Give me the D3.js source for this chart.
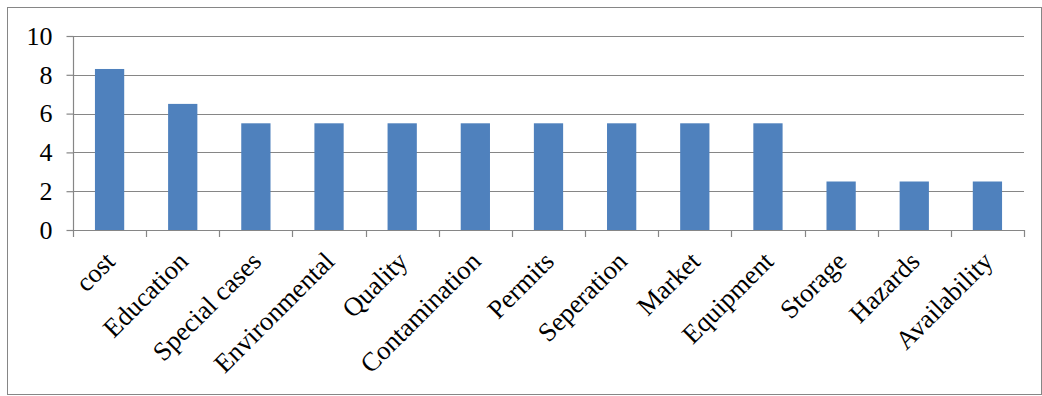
<!DOCTYPE html>
<html lang="en">
  <head>
    <meta charset="UTF-8" />
    <title>bar-chart</title>
    <style>
      body { margin: 0; background: #fff; }
      text { font-family: "Liberation Serif", "Times New Roman", serif; fill: #000; }
    </style>
  </head>
  <body>
    <svg width="1042" height="396" id="svg"></svg>
    <script src="https://cdnjs.cloudflare.com/ajax/libs/d3/7.8.5/d3.min.js"></script>
    <script>
      // data
      const categories = ["cost", "Education", "Special cases", "Environmental", "Quality",
        "Contamination", "Permits", "Seperation", "Market", "Equipment", "Storage",
        "Hazards", "Availability"];
      const values = [8.3, 6.5, 5.5, 5.5, 5.5, 5.5, 5.5, 5.5, 5.5, 5.5, 2.5, 2.5, 2.5];
      const yTicks = [0, 2, 4, 6, 8, 10];

      const svg = d3.select("#svg");
      const margin = { top: 36, left: 73, right: 18, bottom: 166 };
      const width = +svg.attr("width");
      const height = +svg.attr("height");

      // outer frame
      svg.append("rect")
        .attr("x", 7.5).attr("y", 7.5)
        .attr("width", width - 8).attr("height", height - 9)
        .attr("fill", "none").attr("stroke", "#868686");

      const x = d3.scaleBand()
        .domain(categories)
        .range([margin.left, width - margin.right])
        .paddingInner(0.6).paddingOuter(0.3);
      const y = d3.scaleLinear().domain([0, 10]).range([height - margin.bottom, margin.top]);

      // gridlines
      svg.append("g")
        .selectAll("line")
        .data(yTicks.filter(d => d > 0))
        .join("line")
        .attr("x1", margin.left).attr("x2", width - margin.right)
        .attr("y1", d => Math.round(y(d)) + 0.5).attr("y2", d => Math.round(y(d)) + 0.5)
        .attr("stroke", "#868686").attr("stroke-width", 1.2);

      // bars
      svg.append("g")
        .selectAll("rect")
        .data(values)
        .join("rect")
        .attr("x", (d, i) => x(categories[i]))
        .attr("y", d => y(d))
        .attr("width", x.bandwidth())
        .attr("height", d => y(0) - y(d))
        .attr("fill", "#4f81bd");

      // y axis
      const yAxis = svg.append("g")
        .attr("transform", `translate(${margin.left + 0.5},0)`)
        .call(d3.axisLeft(y).tickValues(yTicks).tickSize(7).tickPadding(14));
      yAxis.selectAll("path, line").attr("stroke", "#868686").attr("stroke-width", 1.2);
      yAxis.select(".domain").attr("d", `M0,${margin.top}V${y(0)}`);
      yAxis.selectAll("text").attr("font-size", 26).attr("fill", "#000")
        .style("font-family", "Liberation Serif");

      // x axis: ticks between categories
      const xAxisG = svg.append("g");
      xAxisG.append("line")
        .attr("x1", margin.left).attr("x2", width - margin.right)
        .attr("y1", Math.round(y(0)) + 0.5).attr("y2", Math.round(y(0)) + 0.5)
        .attr("stroke", "#868686").attr("stroke-width", 1.2);
      const edges = d3.range(categories.length + 1).map(i => margin.left + i * (width - margin.right - margin.left) / categories.length);
      xAxisG.selectAll("line.tk")
        .data(edges)
        .join("line")
        .attr("class", "tk")
        .attr("x1", d => Math.round(d) + 0.5).attr("x2", d => Math.round(d) + 0.5)
        .attr("y1", y(0)).attr("y2", y(0) + 7)
        .attr("stroke", "#868686").attr("stroke-width", 1.2);

      xAxisG.selectAll("text")
        .data(categories)
        .join("text")
        .attr("transform", d => `translate(${x(d) + x.bandwidth() / 2 + 7},${y(0) + 33}) rotate(-45)`)
        .attr("text-anchor", "end")
        .attr("font-size", 26.5)
        .text(d => d);
    </script>
  </body>
</html>
